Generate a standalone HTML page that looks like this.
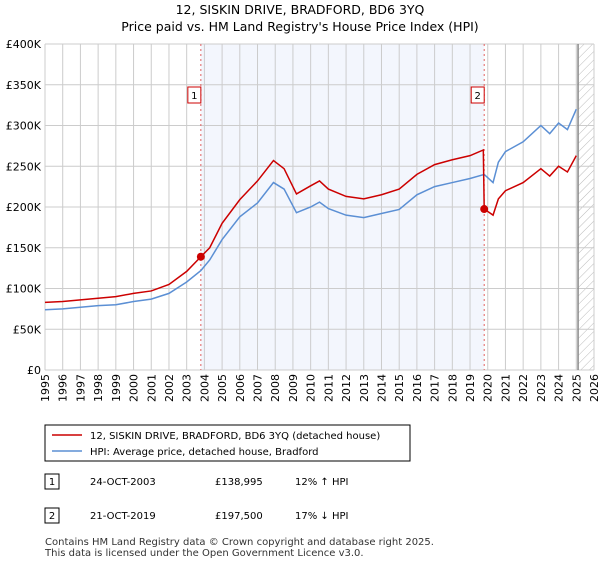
<!DOCTYPE html>
<html><head><meta charset="utf-8"><style>
body{margin:0;width:600px;height:560px;background:#fff;font-family:"Liberation Sans","DejaVu Sans",sans-serif;overflow:hidden}
</style></head><body>
<svg width="600" height="560" xmlns="http://www.w3.org/2000/svg" font-family="DejaVu Sans, Liberation Sans, sans-serif">
<defs><pattern id="hatch" width="6" height="6" patternUnits="userSpaceOnUse" patternTransform="rotate(45)"><line x1="0" y1="0" x2="0" y2="6" stroke="#bbb" stroke-width="1"/></pattern></defs>
<text x="300" y="14" text-anchor="middle" font-size="12.5">12, SISKIN DRIVE, BRADFORD, BD6 3YQ</text>
<text x="300" y="31" text-anchor="middle" font-size="12.5">Price paid vs. HM Land Registry's House Price Index (HPI)</text>
<g id="plot"></g>
<g id="legend">
<rect x="45" y="425" width="365" height="36" fill="#fff" stroke="#000" stroke-width="1"/>
<line x1="52" y1="435" x2="82" y2="435" stroke="#cc0000" stroke-width="1.5"/>
<text x="90" y="439" font-size="10">12, SISKIN DRIVE, BRADFORD, BD6 3YQ (detached house)</text>
<line x1="52" y1="451" x2="82" y2="451" stroke="#5b8fd4" stroke-width="1.5"/>
<text x="90" y="455" font-size="10">HPI: Average price, detached house, Bradford</text>
</g>
<g font-size="10">
<rect x="45" y="474" width="14" height="15" fill="#fff" stroke="#000"/><text x="52" y="485" text-anchor="middle">1</text>
<text x="90" y="485">24-OCT-2003</text><text x="215" y="485">£138,995</text><text x="295" y="485">12% ↑ HPI</text>
<rect x="45" y="508" width="14" height="15" fill="#fff" stroke="#000"/><text x="52" y="519" text-anchor="middle">2</text>
<text x="90" y="519">21-OCT-2019</text><text x="215" y="519">£197,500</text><text x="295" y="519">17% ↓ HPI</text>
</g>
<text x="45" y="545" font-size="10" fill="#333">Contains HM Land Registry data © Crown copyright and database right 2025.</text>
<text x="45" y="556" font-size="10" fill="#333">This data is licensed under the Open Government Licence v3.0.</text>
</svg>
<script>
const hpiYears=[1995,1996,1997,1998,1999,2000,2001,2002,2003,2003.8,2004.3,2005,2006,2007,2007.9,2008.5,2009.2,2010,2010.5,2011,2012,2013,2014,2015,2016,2017,2018,2019,2019.8,2020.3,2020.6,2021,2022,2023,2023.5,2024,2024.5,2025];
const hpiValues=[74,75,77,79,80,84,87,94,108,122,135,160,188,205,230,222,193,200,206,198,190,187,192,197,215,225,230,235,240,230,255,268,280,300,290,303,295,320];
const priceYears=[1995,1996,1997,1998,1999,2000,2001,2002,2003,2003.8,2004.3,2005,2006,2007,2007.9,2008.5,2009.2,2010,2010.5,2011,2012,2013,2014,2015,2016,2017,2018,2019,2019.75,2019.8,2020.3,2020.6,2021,2022,2023,2023.5,2024,2024.5,2025];
const priceValues=[83,84,86,88,90,94,97,105,121,139,150,180,209,232,257,247,216,226,232,222,213,210,215,222,240,252,258,263,270,197.5,190,210,220,230,247,238,250,243,263];
const saleYears=[2003.8,2019.8];
const saleValues=[138.995,197.5];
const saleLabels=["1","2"];
const yTicks=[0,50,100,150,200,250,300,350,400];
const yTickLabels=["£0","£50K","£100K","£150K","£200K","£250K","£300K","£350K","£400K"];
const xTicks=[1995,1996,1997,1998,1999,2000,2001,2002,2003,2004,2005,2006,2007,2008,2009,2010,2011,2012,2013,2014,2015,2016,2017,2018,2019,2020,2021,2022,2023,2024,2025,2026];
const X0=45,X1=594,Y0=370,Y1=44;
const xs=y=>X0+(y-1995)/(2026-1995)*(X1-X0);
const ys=v=>Y0-v/400*(Y0-Y1);
const NS="http://www.w3.org/2000/svg";
const g=document.getElementById('plot');
function mk(t,a){const e=document.createElementNS(NS,t);for(const k in a)e.setAttribute(k,a[k]);g.appendChild(e);return e;}
let e;
e=mk('rect',{x:xs(saleYears[0]),y:Y1,width:xs(saleYears[1])-xs(saleYears[0]),height:Y0-Y1,fill:'#f3f6fd'});


e=mk('rect',{x:xs(2025.1),y:Y1,width:X1-xs(2025.1),height:Y0-Y1,fill:'url(#hatch)'});


xTicks.forEach(t=>{e=mk('line',{x1:xs(t),x2:xs(t),y1:Y1,y2:Y0,stroke:'#ccc'});


const tx=xs(t)+4,ty=Y0+4;
e=mk('text',{x:tx,y:ty,'text-anchor':'end','font-size':11,transform:'rotate(-90 '+tx+' '+ty+')'});e.textContent=t;

});
yTicks.forEach((t,i)=>{e=mk('line',{x1:X0,x2:X1,y1:ys(t),y2:ys(t),stroke:'#ccc'});


e=mk('text',{x:X0-4,y:ys(t)+4,'text-anchor':'end','font-size':11});e.textContent=yTickLabels[i];

});
e=mk('line',{x1:xs(2025.1),x2:xs(2025.1),y1:Y1,y2:Y0,stroke:'#888','stroke-width':1.5});


saleYears.forEach((s,i)=>{e=mk('line',{x1:xs(s),x2:xs(s),y1:Y1,y2:Y0,stroke:'#e06060','stroke-dasharray':'2,3'});


e=mk('rect',{x:xs(s)-13,y:87,width:13,height:16,fill:'#fff',stroke:'#cc0000'});


e=mk('text',{x:xs(s)-6.5,y:99,'text-anchor':'middle','font-size':10});e.textContent=saleLabels[i];

});
e=mk('polyline',{points:hpiYears.map((y,i)=>xs(y)+','+ys(hpiValues[i])).join(' '),fill:'none',stroke:'#5b8fd4','stroke-width':1.5});


e=mk('polyline',{points:priceYears.map((y,i)=>xs(y)+','+ys(priceValues[i])).join(' '),fill:'none',stroke:'#cc0000','stroke-width':1.5});


saleYears.forEach((s,i)=>{e=mk('circle',{cx:xs(s),cy:ys(saleValues[i]),r:4,fill:'#cc0000'});

});
</script>
</body></html>
